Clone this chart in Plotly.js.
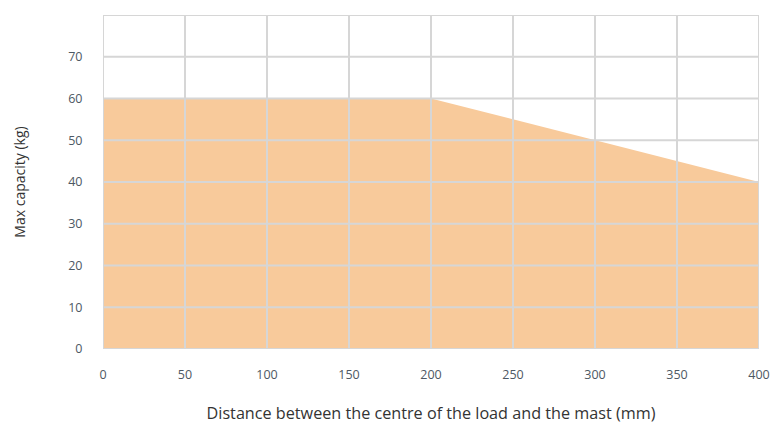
<!DOCTYPE html>
<html><head><meta charset="utf-8">
<script src="https://cdn.plot.ly/plotly-3.0.1.min.js"></script>
<style>body{margin:0;background:#fff}#c{width:773px;height:426px}</style>
</head><body><div id="c"></div>
<script>
const distance = [0, 200, 400];
const capacity = [60, 60, 40];
const xTicks = [0, 50, 100, 150, 200, 250, 300, 350, 400];
const yTicks = [0, 10, 20, 30, 40, 50, 60, 70, 80];
const yTickLabels = ['0', '10', '20', '30', '40', '50', '60', '70', ''];

const gridColor = '#d6d6d6';
const shapes = [];
xTicks.forEach(v => shapes.push({type:'line', xref:'x', yref:'y', x0:v, x1:v, y0:0, y1:80, line:{color:gridColor, width:2}, layer:'above'}));
yTicks.forEach(v => shapes.push({type:'line', xref:'x', yref:'y', x0:0, x1:400, y0:v, y1:v, line:{color:gridColor, width:2}, layer:'above'}));

Plotly.newPlot('c', [{
  x: distance, y: capacity, type:'scatter', mode:'lines',
  fill:'tozeroy', fillcolor:'#f8ca9b', line:{width:0, color:'#f8ca9b'},
  hoverinfo:'skip'
}], {
  width:773, height:426,
  margin:{l:103, r:14, t:15, b:77},
  paper_bgcolor:'#fff', plot_bgcolor:'#fff',
  showlegend:false,
  font:{family:'"Open Sans", sans-serif', size:12, color:'#4d5863'},
  xaxis:{range:[0,400], tickvals:xTicks, showgrid:false, zeroline:false, showline:false,
    ticks:'outside', ticklen:14, tickcolor:'rgba(0,0,0,0)',
    tickfont:{size:12.5, color:'#4d5863'},
    title:{text:'Distance between the centre of the load and the mast (mm)', font:{size:16.2, color:'#333'}, standoff:25}},
  yaxis:{range:[0,80], tickvals:yTicks, ticktext:yTickLabels, showgrid:false, zeroline:false, showline:false,
    ticks:'outside', ticklen:17, tickcolor:'rgba(0,0,0,0)',
    tickfont:{size:12.5, color:'#4d5863'},
    title:{text:'Max capacity (kg)', font:{size:14, color:'#333'}, standoff:39}},
  shapes: shapes
}, {displayModeBar:false, staticPlot:true});
</script></body></html>
